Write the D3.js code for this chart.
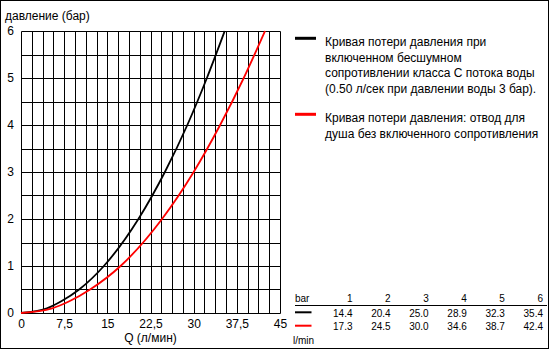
<!DOCTYPE html>
<html>
<head>
<meta charset="utf-8">
<script src="https://cdn.jsdelivr.net/npm/d3@7"></script>
<style>
  body { margin: 0; background: #fff; }
  svg { display: block; font-family: "Liberation Sans", Arial, sans-serif; }
</style>
</head>
<body>
<div id="chart"></div>
<script>
// curve points (bar -> l/min), low end, rest from the table
const pressure = [0, 0.1, 0.25, 0.5, 1, 2, 3, 4, 5, 6];
const flowBlack = [0, 4.5, 7.0, 10.1, 14.4, 20.4, 25.0, 28.9, 32.3, 35.4];
const flowRed = [0, 5.4, 8.4, 12.0, 17.3, 24.5, 30.0, 34.6, 38.7, 42.4];

// table under the legend
const tableBar = [1, 2, 3, 4, 5, 6];
const tableBlack = ["14.4", "20.4", "25.0", "28.9", "32.3", "35.4"];
const tableRed = ["17.3", "24.5", "30.0", "34.6", "38.7", "42.4"];

const xTicks = [0, 7.5, 15, 22.5, 30, 37.5, 45];
const yTicks = [0, 1, 2, 3, 4, 5, 6];

const legendBlack = [
  "Кривая потери давления при",
  "включенном бесшумном",
  "сопротивлении класса С потока воды",
  "(0.50 л/сек при давлении воды 3 бар)."
];
const legendRed = [
  "Кривая потери давления: отвод для",
  "душа без включенного сопротивления"
];

const W = 550, H = 350;
const svg = d3.select("#chart")
  .append("svg")
  .attr("width", W)
  .attr("height", H);

// outer frame
svg.append("rect")
  .attr("x", 0.5).attr("y", 0.5)
  .attr("width", 548).attr("height", 348)
  .attr("fill", "#fff")
  .attr("stroke", "#000");

const x = d3.scaleLinear().domain([0, 45]).range([21, 280]);
const y = d3.scaleLinear().domain([0, 6]).range([313, 31]);

const px = v => Math.round(v) + 0.5;

// grid
const grid = svg.append("g").attr("stroke", "#000").attr("stroke-width", 1);
grid.selectAll(".v")
  .data(d3.range(0, 25).map(i => i * 1.875))
  .enter().append("line")
  .attr("x1", d => px(x(d))).attr("x2", d => px(x(d)))
  .attr("y1", px(y(6))).attr("y2", px(y(0)));
grid.selectAll(".h")
  .data(d3.range(0, 13).map(i => i * 0.5))
  .enter().append("line")
  .attr("x1", px(x(0))).attr("x2", px(x(45)))
  .attr("y1", d => px(y(d))).attr("y2", d => px(y(d)));

// axes labels
const xAxis = svg.append("g")
  .attr("transform", `translate(0,${y(0) + 3})`)
  .call(d3.axisBottom(x).tickValues(xTicks).tickSize(0)
    .tickFormat(d => String(d).replace(".", ",")));
xAxis.select(".domain").remove();
xAxis.selectAll("text").attr("font-size", 12).attr("font-family", "Liberation Sans, Arial, sans-serif").attr("fill", "#000");

const yAxis = svg.append("g")
  .attr("transform", `translate(${x(0) - 4},0)`)
  .call(d3.axisLeft(y).tickValues(yTicks).tickSize(0).tickFormat(d3.format("d")));
yAxis.select(".domain").remove();
yAxis.selectAll("text").attr("font-size", 12).attr("font-family", "Liberation Sans, Arial, sans-serif").attr("fill", "#000");

svg.append("text")
  .attr("x", 5).attr("y", 20)
  .attr("font-size", 12)
  .text("давление (бар)");

svg.append("text")
  .attr("x", (x(0) + x(45)) / 2).attr("y", 342)
  .attr("text-anchor", "middle")
  .attr("font-size", 12)
  .text("Q (л/мин)");

// curves
const line = d3.line()
  .x(d => x(d[0]))
  .y(d => y(d[1]))
  .curve(d3.curveMonotoneX);

[[flowBlack, "#000"], [flowRed, "#f00"]].forEach(([q, c]) => {
  svg.append("path")
    .datum(q.map((v, i) => [v, pressure[i]]))
    .attr("d", line)
    .attr("fill", "none")
    .attr("stroke", c)
    .attr("stroke-width", 1.8);
});

// legend
function legend(lines, color, ly) {
  svg.append("line")
    .attr("x1", 295).attr("x2", 316)
    .attr("y1", ly).attr("y2", ly)
    .attr("stroke", color).attr("stroke-width", 3);
  svg.append("g").selectAll("text")
    .data(lines)
    .enter().append("text")
    .attr("x", 325)
    .attr("y", (d, i) => ly + 7.7 + i * 15.6)
    .attr("font-size", 12)
    .text(d => d);
}
legend(legendBlack, "#000", 38.3);
legend(legendRed, "#f00", 114.3);

// table
const colX = d3.scalePoint().domain(tableBar).range([352.5, 543]);
const tbl = svg.append("g").attr("font-size", 10);
tbl.append("text").attr("x", 295).attr("y", 302).text("bar");
tbl.selectAll(".hd").data(tableBar).enter().append("text")
  .attr("x", d => colX(d)).attr("y", 302)
  .attr("text-anchor", "end").text(d => d);
tbl.append("line")
  .attr("x1", 295).attr("x2", 547)
  .attr("y1", 305.5).attr("y2", 305.5)
  .attr("stroke", "#000");
[[tableBlack, "#000", 312.3, 317], [tableRed, "#f00", 325.7, 329.5]].forEach(([vals, c, ly, ty]) => {
  tbl.append("line")
    .attr("x1", 295).attr("x2", 311.5)
    .attr("y1", ly).attr("y2", ly)
    .attr("stroke", c).attr("stroke-width", 2);
  tbl.selectAll(null).data(vals).enter().append("text")
    .attr("x", (d, i) => colX(tableBar[i])).attr("y", ty)
    .attr("text-anchor", "end").text(d => d);
});
tbl.append("text").attr("x", 293).attr("y", 344).text("l/min");
</script>
</body>
</html>
